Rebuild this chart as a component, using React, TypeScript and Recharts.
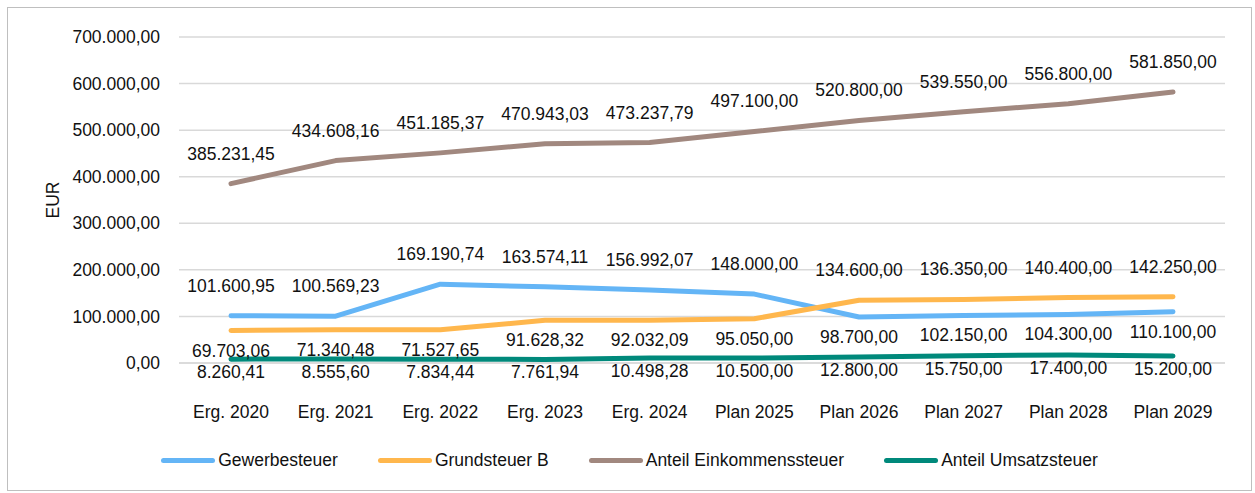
import { CartesianGrid, Legend, Line, LineChart, XAxis, YAxis } from 'recharts'

const CATEGORIES = ['Erg. 2020', 'Erg. 2021', 'Erg. 2022', 'Erg. 2023', 'Erg. 2024', 'Plan 2025', 'Plan 2026', 'Plan 2027', 'Plan 2028', 'Plan 2029']
const GEWERBE = [101600.95, 100569.23, 169190.74, 163574.11, 156992.07, 148000, 98700, 102150, 104300, 110100]
const GRUND_B = [69703.06, 71340.48, 71527.65, 91628.32, 92032.09, 95050, 134600, 136350, 140400, 142250]
const EINKOMMEN = [385231.45, 434608.16, 451185.37, 470943.03, 473237.79, 497100, 520800, 539550, 556800, 581850]
const UMSATZ = [8260.41, 8555.6, 7834.44, 7761.94, 10498.28, 10500, 12800, 15750, 17400, 15200]
const Y_TICKS = [0, 100000, 200000, 300000, 400000, 500000, 600000, 700000]

const SERIES = [
  { key: 'gewerbe', name: 'Gewerbesteuer', color: '#64b5f6' },
  { key: 'grund', name: 'Grundsteuer B', color: '#ffb74d' },
  { key: 'einkommen', name: 'Anteil Einkommenssteuer', color: '#a1887f' },
  { key: 'umsatz', name: 'Anteil Umsatzsteuer', color: '#00897b' },
]

const data = CATEGORIES.map((cat, i) => ({
  cat,
  gewerbe: GEWERBE[i],
  grund: GRUND_B[i],
  einkommen: EINKOMMEN[i],
  umsatz: UMSATZ[i],
}))

const FONT = '"Liberation Sans", Arial, sans-serif'
const FS = 17.5

function fmt(v: number): string {
  const [int, dec] = v.toFixed(2).split('.')
  return int.replace(/\B(?=(\d{3})+(?!\d))/g, '.') + ',' + dec
}

function makeLabel(isAbove: (i: number) => boolean, below = 20) {
  return (props: any) => {
    const { x, y, value, index } = props
    if (value == null) return null
    const dy = isAbove(index) ? -30 : below
    return (
      <text x={x} y={y + dy} textAnchor="middle" dominantBaseline="central" fill="#111" fontSize={FS} fontFamily={FONT}>
        {fmt(value)}
      </text>
    )
  }
}

function EurLabel(props: any) {
  const { viewBox } = props
  const cx = viewBox.x + 45
  const cy = viewBox.y + viewBox.height / 2
  return (
    <text x={cx} y={cy} transform={`rotate(-90 ${cx} ${cy})`} textAnchor="middle" dominantBaseline="central" fill="#111" fontSize={FS} fontFamily={FONT}>
      EUR
    </text>
  )
}

function LegendContent() {
  return (
    <div style={{ display: 'flex', justifyContent: 'center', gap: 40, fontFamily: FONT, fontSize: FS, color: '#111' }}>
      {SERIES.map((s) => (
        <div key={s.key} style={{ display: 'flex', alignItems: 'center' }}>
          <span style={{ display: 'inline-block', width: 54, height: 5, borderRadius: 3, background: s.color, marginRight: 3 }} />
          <span>{s.name}</span>
        </div>
      ))}
    </div>
  )
}

export default function App() {
  const labelFor: Record<string, any> = {
    gewerbe: makeLabel((i) => GEWERBE[i] >= GRUND_B[i]),
    grund: makeLabel((i) => GRUND_B[i] > GEWERBE[i]),
    einkommen: makeLabel(() => true),
    umsatz: makeLabel(() => false, 13),
  }

  return (
    <div style={{ position: 'absolute', left: 7, top: 7, width: 1243, height: 482, border: '1px solid #bfbfbf', background: '#fff' }}>
      <LineChart width={1243} height={482} data={data} margin={{ top: 29, right: 26, bottom: 36, left: 0 }}>
        <CartesianGrid horizontal vertical={false} stroke="#d9d9d9" strokeWidth={1.5} />
        <XAxis
          dataKey="cat"
          axisLine={{ stroke: '#d9d9d9', strokeWidth: 1.5 }}
          tickLine={false}
          tickSize={0}
          tickMargin={43}
          height={70}
          interval={0}
          padding={{ left: 52, right: 52 }}
          tick={{ fontSize: FS, fill: '#111', fontFamily: FONT }}
        />
        <YAxis
          domain={[0, 700000]}
          ticks={Y_TICKS}
          width={171}
          axisLine={false}
          tickLine={false}
          tickSize={0}
          tickMargin={19}
          tickFormatter={fmt}
          tick={{ fontSize: FS, fill: '#111', fontFamily: FONT }}
          label={<EurLabel />}
        />
        <Legend content={<LegendContent />} wrapperStyle={{ top: 442, left: 0, width: 1243 }} />
        {SERIES.map((s) => (
          <Line
            key={s.key}
            type="linear"
            dataKey={s.key}
            name={s.name}
            stroke={s.color}
            strokeWidth={5}
            strokeLinecap="round"
            strokeLinejoin="round"
            dot={false}
            activeDot={false}
            label={labelFor[s.key]}
            isAnimationActive={false}
          />
        ))}
      </LineChart>
    </div>
  )
}
